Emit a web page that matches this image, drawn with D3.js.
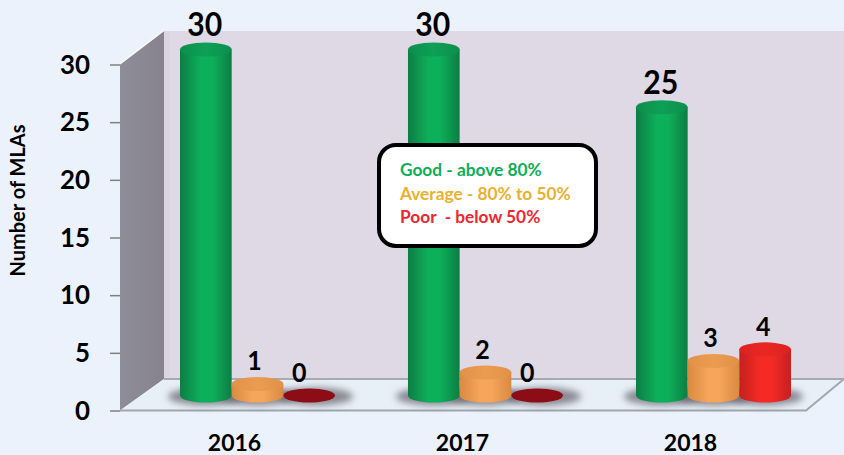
<!DOCTYPE html>
<html>
<head>
<meta charset="utf-8">
<script src="https://cdn.jsdelivr.net/npm/d3@7"></script>
<style>
  html, body { margin: 0; padding: 0; background: #ecf2fb; }
  svg { display: block; font-family: Lato, "Open Sans", sans-serif; font-weight: 700; }
</style>
</head>
<body>
<div id="chart"></div>
<script>
const years = ['2016', '2017', '2018'];
const seriesNames = ['good', 'average', 'poor'];
const good = [30, 30, 25];
const average = [1, 2, 3];
const poor = [0, 0, 4];
const yTicks = [0, 5, 10, 15, 20, 25, 30];
const legendLines = ['Good - above 80%', 'Average - 80% to 50%', 'Poor  - below 50%'];

const width = 844;
const height = 455;

const svg = d3.select('#chart').append('svg')
  .attr('width', width)
  .attr('height', height);

const defs = svg.append('defs');

// horizontal shading gives the cylinder look
const colors = {
  good: { edge: '#0a7d44', mid: '#0db05a', cap: '#10a056', capEdge: '#0c8f4c', text: '#0cae58' },
  average: { edge: '#d98a42', mid: '#f6a55a', cap: '#ec9c50', capEdge: '#e0924a', text: '#ebb02d' },
  poor: { edge: '#c41f1f', mid: '#f42c26', cap: '#ea2822', capEdge: '#dc2220', text: '#ee2630' },
};

seriesNames.forEach((name) => {
  const c = colors[name];
  const body = defs.append('linearGradient').attr('id', 'body-' + name);
  body.append('stop').attr('offset', '0%').attr('stop-color', c.edge);
  body.append('stop').attr('offset', '40%').attr('stop-color', c.mid);
  body.append('stop').attr('offset', '62%').attr('stop-color', c.mid);
  body.append('stop').attr('offset', '100%').attr('stop-color', c.edge);
  const cap = defs.append('linearGradient').attr('id', 'cap-' + name);
  cap.append('stop').attr('offset', '0%').attr('stop-color', c.capEdge);
  cap.append('stop').attr('offset', '50%').attr('stop-color', c.cap);
  cap.append('stop').attr('offset', '100%').attr('stop-color', c.capEdge);
});

const wallGrad = defs.append('linearGradient').attr('id', 'side-wall');
wallGrad.append('stop').attr('offset', '0%').attr('stop-color', '#8f8d99');
wallGrad.append('stop').attr('offset', '100%').attr('stop-color', '#86838e');

defs.append('filter').attr('id', 'blur-shadow')
  .attr('x', '-30%').attr('y', '-100%').attr('width', '160%').attr('height', '300%')
  .append('feGaussianBlur').attr('stdDeviation', 3.5);
defs.append('filter').attr('id', 'blur-soft')
  .append('feGaussianBlur').attr('stdDeviation', 0.5);

const yScale = d3.scaleLinear().domain([0, 30]).range([410.5, 64.5]);

const xScale = d3.scaleBand()
  .domain(years)
  .range([180, 791])
  .paddingInner(0.32);

const xInner = d3.scaleBand()
  .domain(seriesNames)
  .range([0, xScale.bandwidth()]);

// the year labels sit on the front edge of the floor, left of the bars
const xAxisScale = xScale.copy().range([157, 768]);

// chart box
const depthX = 44;
const depthY = 31.5;
const floorFrontRight = 806;
const x0 = 120;
const yBase = yScale(0);
const yTop = yScale(30);

svg.append('polygon')
  .attr('points', [[x0 + depthX, yTop - depthY - 2], [width, yTop - depthY - 2], [width, yBase - depthY], [x0 + depthX, yBase - depthY]].join(' '))
  .attr('fill', '#dfd8e5');

svg.append('rect')
  .attr('x', x0 + depthX).attr('y', yTop - depthY - 2)
  .attr('width', 6).attr('height', yBase - yTop)
  .attr('fill', '#d9d6e1');

svg.append('polygon')
  .attr('points', [[x0, yTop], [x0 + depthX, yTop - depthY - 2], [x0 + depthX, yBase - depthY], [x0, yBase]].join(' '))
  .attr('fill', 'url(#side-wall)');

svg.append('line')
  .attr('x1', x0).attr('y1', yTop - 1)
  .attr('x2', x0 + depthX).attr('y2', yTop - depthY - 3)
  .attr('stroke', '#f4f6fb').attr('stroke-width', 2);

svg.append('polygon')
  .attr('points', [[x0, yBase], [x0 + depthX, yBase - depthY], [width, yBase - depthY], [floorFrontRight, yBase]].join(' '))
  .attr('fill', '#e7eff7');

svg.append('polyline')
  .attr('points', [[x0 + depthX, yBase - depthY], [width, yBase - depthY]].join(' '))
  .attr('fill', 'none').attr('stroke', '#a9a9b0').attr('stroke-width', 2);

svg.append('polyline')
  .attr('points', [[x0, yBase], [floorFrontRight, yBase], [width, yBase - depthY]].join(' '))
  .attr('fill', 'none').attr('stroke', '#a3a6ad').attr('stroke-width', 2);

// y axis
const yAxis = svg.append('g')
  .attr('class', 'y-axis')
  .attr('transform', `translate(${x0}, 0)`)
  .call(d3.axisLeft(yScale).tickValues(yTicks).tickSize(10).tickPadding(20));
yAxis.select('.domain').remove();
yAxis.selectAll('line').attr('stroke', '#808080').attr('stroke-width', 1.5);
yAxis.selectAll('text')
  .attr('fill', '#000')
  .attr('textLength', (d) => String(d).length * 15)
  .attr('lengthAdjust', 'spacingAndGlyphs')
  .style('font-size', '27px')
  .style('font-family', 'Lato, sans-serif')
  .style('font-weight', 700);

svg.append('text')
  .attr('transform', 'translate(25, 200.5) rotate(-90)')
  .attr('text-anchor', 'middle')
  .style('font-size', '20px')
  .text('Number of MLAs');

// x axis
const xAxis = svg.append('g')
  .attr('class', 'x-axis')
  .attr('transform', 'translate(0, 431)')
  .call(d3.axisBottom(xAxisScale).tickSize(0).tickPadding(0));
xAxis.select('.domain').remove();
xAxis.selectAll('text')
  .attr('fill', '#000')
  .attr('y', 0)
  .attr('dy', 0)
  .attr('transform', 'translate(0, 20)')
  .style('font-size', '23px')
  .style('font-family', 'Lato, sans-serif')
  .style('font-weight', 700);

// bars
const bars = years.flatMap((year, i) => [
  { year, series: 'good', value: good[i] },
  { year, series: 'average', value: average[i] },
  { year, series: 'poor', value: poor[i] },
]);

const barLift = 15; // bars stand in the middle of the floor, not on its front edge
const ry = 7;
const barX = (d) => xScale(d.year) + xInner(d.series);
const barMid = (d) => barX(d) + xInner.bandwidth() / 2;
const barY = (v) => yScale(v) - barLift;

svg.append('g').attr('class', 'shadows')
  .selectAll('ellipse')
  .data(bars)
  .join('ellipse')
  .attr('cx', (d) => barMid(d) + (d.value === 0 ? 6 : 0))
  .attr('cy', barY(0) + 1)
  .attr('rx', xInner.bandwidth() / 2 + 12)
  .attr('ry', ry + 2)
  .attr('fill', '#6a6670')
  .attr('fill-opacity', 0.75)
  .attr('filter', 'url(#blur-shadow)');

const barGroups = svg.append('g').attr('class', 'bars')
  .selectAll('g')
  .data(bars)
  .join('g')
  .attr('filter', 'url(#blur-soft)');

barGroups.filter((d) => d.value > 0).append('path')
  .attr('d', (d) => {
    const left = barX(d);
    const w = xInner.bandwidth();
    const rx = w / 2;
    return `M${left},${barY(d.value)}V${barY(0)}A${rx},${ry} 0 0 0 ${left + w},${barY(0)}V${barY(d.value)}Z`;
  })
  .attr('fill', (d) => `url(#body-${d.series})`);

barGroups.append('ellipse')
  .attr('cx', barMid)
  .attr('cy', (d) => barY(d.value))
  .attr('rx', xInner.bandwidth() / 2)
  .attr('ry', ry)
  .attr('fill', (d) => (d.value === 0 ? '#8c0f15' : `url(#cap-${d.series})`));

// value labels
const labelShift = { good: -1, average: -3, poor: -2 };
svg.append('g').attr('class', 'labels')
  .selectAll('text')
  .data(bars)
  .join('text')
  .attr('x', (d) => barMid(d) + (d.value === 0 ? -10 : labelShift[d.series]))
  .attr('y', (d) => barY(d.value) - 13.5)
  .attr('text-anchor', 'middle')
  .attr('fill', '#000')
  .attr('textLength', (d) => String(d.value).length * (d.value >= 25 ? 17.5 : 14.5))
  .attr('lengthAdjust', 'spacingAndGlyphs')
  .style('font-size', (d) => (d.value >= 25 ? '32px' : '27px'))
  .text((d) => d.value);

// legend box
const legend = svg.append('g').attr('class', 'legend');
legend.append('rect')
  .attr('x', 379).attr('y', 145)
  .attr('width', 217).attr('height', 101)
  .attr('rx', 17)
  .attr('fill', '#fff')
  .attr('stroke', '#000')
  .attr('stroke-width', 4);

legend.selectAll('text')
  .data(legendLines)
  .join('text')
  .attr('x', 400)
  .attr('y', (d, i) => [176, 200, 223][i])
  .attr('fill', (d, i) => colors[seriesNames[i]].text)
  .style('font-size', '17.3px')
  .style('white-space', 'pre')
  .text((d) => d);
</script>
</body>
</html>
